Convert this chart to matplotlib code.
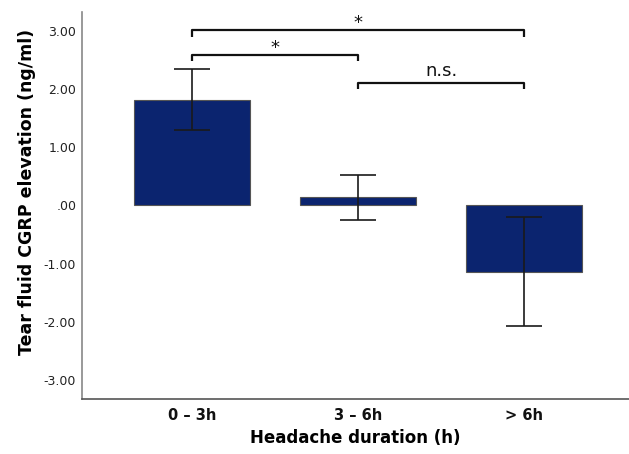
import matplotlib
matplotlib.use("Agg")
import matplotlib.pyplot as plt

# data
groups = ["0 – 3h", "3 – 6h", "> 6h"]
means = [1.82, 0.14, -1.14]
ci_low = [1.29, -0.25, -2.08]
ci_high = [2.34, 0.53, -0.20]
y_ticks = [3.0, 2.0, 1.0, 0.0, -1.0, -2.0, -3.0]
y_ticklabels = ["3.00", "2.00", "1.00", ".00", "-1.00", "-2.00", "-3.00"]

# significance brackets: (left group, right group, height, label)
brackets = [(0, 2, 3.01, "*"), (0, 1, 2.59, "*"), (1, 2, 2.11, "n.s.")]

plt.rcParams['font.family'] = ['DejaVu Sans']

fig = plt.figure(figsize=(6.29, 4.54), dpi=100)
ax = fig.add_axes([0.130, 0.121, 0.870, 0.853])

x = list(range(len(groups)))
yerr = [[m - lo for m, lo in zip(means, ci_low)],
        [hi - m for m, hi in zip(means, ci_high)]]

ax.bar(x, means, width=0.7, color="#0b246f", edgecolor="#555555", linewidth=0.8, zorder=2)
ax.errorbar(x, means, yerr=yerr, fmt="none", ecolor="#1a1a1a", elinewidth=1.2,
            capsize=13, capthick=1.2, zorder=3)

# brackets
drop = 0.11
for left, right, h, label in brackets:
    ax.plot([left, left, right, right], [h - drop, h, h, h - drop],
            color="#111111", linewidth=1.6, solid_capstyle="butt", zorder=4)
    if label == "*":
        ax.text((left + right) / 2, h + 0.04, label, ha="center", va="baseline",
                fontsize=13, color="#111111")
    else:
        ax.text((left + right) / 2, h + 0.12, label, ha="center", va="baseline",
                fontsize=13, color="#111111")

ax.set_xlim(-0.664, 2.63)
ax.set_ylim(-3.33, 3.33)
ax.set_yticks(y_ticks)
ax.set_yticklabels(y_ticklabels, fontsize=9, color="#222222")
ax.set_xticks(x)
ax.set_xticklabels(groups, fontsize=10.5, fontweight="bold", color="#111111")
ax.tick_params(axis="x", length=0, pad=6.5)
ax.tick_params(axis="y", length=0, pad=4)

ax.set_xlabel("Headache duration (h)", fontsize=12, fontweight="bold", labelpad=4)
ax.set_ylabel("Tear fluid CGRP elevation (ng/ml)", fontsize=12.5, fontweight="bold", labelpad=6)
ax.yaxis.label.set_y(0.535)  # label sits a bit above the axes centre

ax.spines["top"].set_visible(False)
ax.spines["right"].set_visible(False)
ax.spines["left"].set_color("#888888")
ax.spines["bottom"].set_color("#555555")
ax.spines["left"].set_linewidth(1.2)
ax.spines["bottom"].set_linewidth(1.2)

fig.savefig("out.png", dpi=100)
